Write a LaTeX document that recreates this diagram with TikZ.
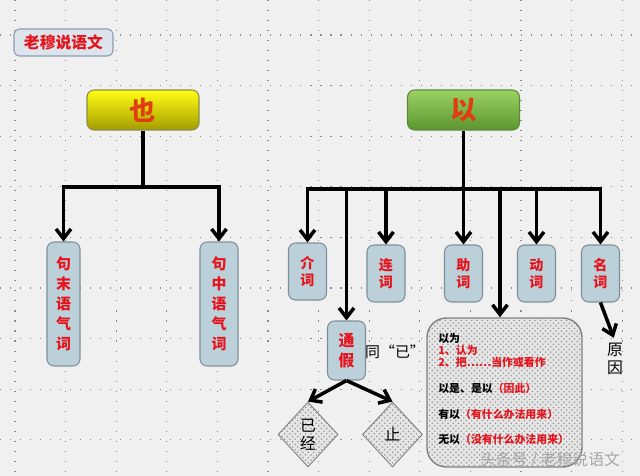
\documentclass[tikz,border=0pt]{standalone}
\usepackage{fontspec}
\setmainfont{Noto Sans CJK SC}
\usetikzlibrary{arrows.meta, shapes.geometric, patterns}
\definecolor{bggray}{HTML}{F0F0F0}
\definecolor{dotgray}{HTML}{8C8C8C}
\definecolor{leafblue}{HTML}{BCD0DA}
\definecolor{leafedge}{HTML}{7E8E99}
\definecolor{wordred}{HTML}{E5141C}
\definecolor{headred}{HTML}{E23C12}
\definecolor{yeltop}{HTML}{FFFF14}
\definecolor{yelbot}{HTML}{A49C00}
\definecolor{yeledge}{HTML}{8C8C4A}
\definecolor{grntop}{HTML}{9CD264}
\definecolor{grnbot}{HTML}{5A962E}
\definecolor{grnedge}{HTML}{5C8A3C}
\definecolor{badgeblue}{HTML}{DCE4EC}
\definecolor{badgeedge}{HTML}{8A9CB0}
\definecolor{boxedge}{HTML}{808080}
\definecolor{boxgray}{HTML}{E6E6E6}
\definecolor{markgray}{HTML}{A6A6A6}

\begin{document}
\begin{tikzpicture}[
    x=0.02cm, y=-0.02cm,
    >={Straight Barb[length=5.5pt, width=8.5pt]},
    trunk/.style={line width=2pt, black},
    griddot/.style={dotgray, line width=0.6pt, dash pattern=on 0.6pt off 5.1pt},
    head/.style={rounded corners=4pt, minimum width=2.24cm, minimum height=0.8cm,
      line width=0.6pt, text=headred, font=\fontsize{15}{15}\selectfont\bfseries},
    leaf/.style={rounded corners=4pt, fill=leafblue, draw=leafedge, line width=0.6pt,
      text=wordred, align=center, inner sep=0pt, minimum width=0.76cm,
      minimum height=1.14cm, font=\fontsize{8}{9.6}\selectfont\bfseries},
    longleaf/.style={leaf, minimum height=2.48cm,
      font=\fontsize{8.5}{11.3}\selectfont\bfseries},
    dotfill/.style={preaction={fill=boxgray}, pattern=crosshatch dots,
      pattern color=gray!80},
    choice/.style={diamond, draw=boxedge, line width=0.5pt, dotfill, inner sep=0pt,
      minimum width=1.2cm, minimum height=1.3cm, align=center,
      font=\fontsize{9}{10.2}\selectfont},
    plain/.style={inner sep=1pt, align=center, font=\fontsize{9}{10.2}\selectfont},
  ]

  % Background and dotted grid
  \fill[bggray] (0,0) rectangle (640,476);
  \useasboundingbox (0,0) rectangle (640,476);
  \foreach \gx in {0,...,12}
    \draw[griddot] (15+50.6*\gx,0) -- (15+50.6*\gx,476);
  \foreach \gy in {0,...,8}
    \draw[griddot] (0,35+50.6*\gy) -- (640,35+50.6*\gy);

  % === Badge ===
  \node[rounded corners=3pt, draw=badgeedge, fill=badgeblue, line width=0.6pt,
    minimum width=1.98cm, minimum height=0.5cm, text=wordred,
    font=\fontsize{9}{9}\selectfont\bfseries] (badge) at (63.5,42.5) {老穆说语文};

  % === Heads ===
  \node[head, top color=yeltop, bottom color=yelbot, draw=yeledge] (ye) at (143,110) {也};
  \node[head, top color=grntop, bottom color=grnbot, draw=grnedge] (yi) at (463.5,110) {以};

  % === Leaves of 也 ===
  \node[longleaf, minimum width=0.66cm] (jumo) at (63.5,304) {句\\末\\语\\气\\词};
  \node[longleaf] (juzhong) at (219,304) {句\\中\\语\\气\\词};

  % === Leaves of 以 ===
  \node[leaf] (jieci) at (307.5,271.5) {介\\词};
  \node[leaf] (lianci) at (386,273.5) {连\\词};
  \node[leaf] (zhuci) at (463.5,273.5) {助\\词};
  \node[leaf] (dongci) at (536.5,273.5) {动\\词};
  \node[leaf] (mingci) at (600.5,273.5) {名\\词};
  \node[leaf, minimum height=1.18cm, font=\fontsize{9}{11.3}\selectfont\bfseries]
    (tongjia) at (346.5,350.5) {通\\假};

  \node[plain, font=\fontsize{8.5}{10}\selectfont] (tongyi) at (395,352) {同“已”};
  \node[plain] (yuanyin) at (615,359) {原\\因};

  \node[choice] (yijing) at (308,434.5) {已\\经};
  \node[choice] (zhi) at (392.5,434.5) {止};

  % === Usage box ===
  \node[rounded corners=11pt, draw=boxedge, line width=0.8pt, dotfill,
    minimum width=3.1cm, minimum height=2.98cm] (yiuse) at (504.5,392.5) {};
  \node[anchor=west, align=left, inner sep=0pt,
    font=\fontsize{6.2}{7}\selectfont\bfseries] (yiusetext) at (438,388.5)
    {以为\\
     {\color{wordred}1、认为}\\
     {\color{wordred}2、把……当作或看作}\\[7.5pt]
     以是、是以{\color{wordred}（因此）}\\[8pt]
     有以{\color{wordred}（有什么办法用来）}\\[7pt]
     无以{\color{wordred}（没有什么办法用来）}};

  \node[text=markgray, font=\fontsize{9}{9}\selectfont] (mark) at (550,460)
    {头条号 / 老穆说语文};

  % === Connectors ===
  \coordinate (yebar) at (143,187);
  \draw[trunk] (ye.south) -- (yebar);
  \draw[trunk, ->] (yebar) -| (jumo.north);
  \draw[trunk, ->] (yebar) -| (juzhong.north);

  \coordinate (yibar) at (463.5,189);
  \draw[trunk] (yi.south) -- (yibar);
  \foreach \leafname in {jieci, tongjia, lianci, zhuci, dongci, mingci}
    \draw[trunk, ->] (yibar) -| (\leafname.north);
  \draw[trunk, ->] (yibar) -| ([xshift=-0.09cm]yiuse.north);

  \draw[trunk, ->, shorten >=2pt] (mingci.south) -- (yuanyin.north);
  \draw[trunk, ->] (tongjia.south) -- (yijing.north);
  \draw[trunk, ->] (tongjia.south) -- (zhi.north);

\end{tikzpicture}
\end{document}
